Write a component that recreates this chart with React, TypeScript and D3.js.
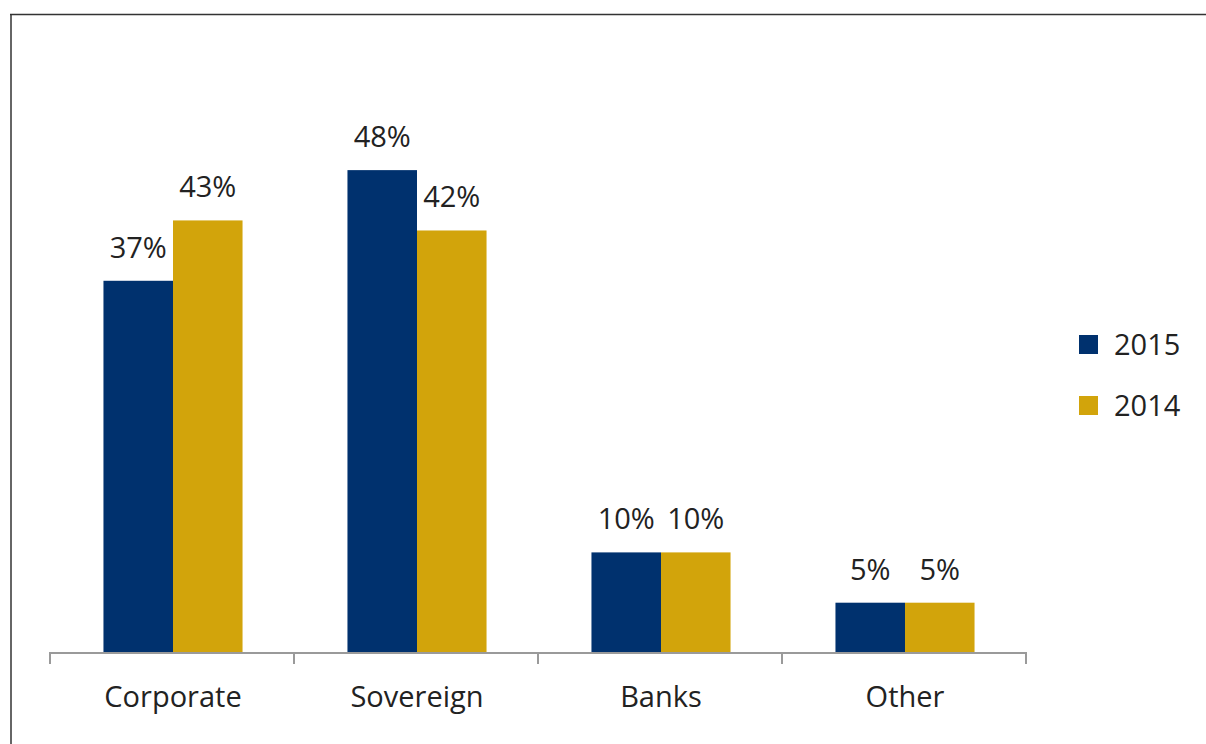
import React from "react";
import * as d3 from "d3";

const categories = ["Corporate", "Sovereign", "Banks", "Other"];
const seriesNames = ["2015", "2014"];
const values2015 = [37, 48, 10, 5];
const values2014 = [43, 42, 10, 5];
const colors = ["#00316E", "#D2A40B"];

const W = 1206;
const H = 744;
const FONT = "'Open Sans', 'Noto Sans', sans-serif";

export default function App() {
  const x = d3
    .scaleBand<string>()
    .domain(categories)
    .range([51, 1027])
    .paddingInner(0.43)
    .paddingOuter(0.215);
  const sub = d3.scaleBand<string>().domain(seriesNames).range([0, x.bandwidth()]);
  const y = d3.scaleLinear().domain([0, 50]).range([653, 150]);
  const series = [values2015, values2014];
  const step = x.step();
  const ticks = d3.range(categories.length + 1).map((i) => 50 + i * step);

  return (
    <svg
      width={W}
      height={H}
      style={{ position: "absolute", left: 0, top: 0, display: "block", background: "#fff" }}
    >
      <rect x={0} y={0} width={W} height={H} fill="#fff" />
      <line x1={10} x2={W} y1={14.5} y2={14.5} stroke="#333" strokeWidth={1.5} />
      <line x1={11} x2={11} y1={14} y2={H} stroke="#333" strokeWidth={1.5} />

      {categories.map((c, ci) =>
        series.map((vals, si) => {
          const bx = (x(c) ?? 0) + (sub(seriesNames[si]) ?? 0);
          const bw = sub.bandwidth();
          const v = vals[ci];
          return (
            <g key={c + si}>
              <rect x={bx} y={y(v)} width={bw} height={y(0) - y(v)} fill={colors[si]} />
              <text
                x={bx + bw / 2}
                y={y(v) - 23}
                textAnchor="middle"
                fontFamily={FONT}
                fontSize={29}
                fill="#222"
              >
                {v}%
              </text>
            </g>
          );
        })
      )}

      <line x1={50} x2={1027} y1={653} y2={653} stroke="#9a9a9a" strokeWidth={2} />
      {ticks.map((t, i) => (
        <line key={i} x1={t} x2={t} y1={652} y2={664} stroke="#9a9a9a" strokeWidth={2} />
      ))}
      {categories.map((c) => (
        <text
          key={c}
          x={(x(c) ?? 0) + x.bandwidth() / 2}
          y={707}
          textAnchor="middle"
          fontFamily={FONT}
          fontSize={29}
          fill="#222"
        >
          {c}
        </text>
      ))}

      {seriesNames.map((s, i) => (
        <g key={s}>
          <rect x={1079} y={335 + i * 61} width={19} height={19} fill={colors[i]} />
          <text x={1114} y={355 + i * 61} fontFamily={FONT} fontSize={29} fill="#222">
            {s}
          </text>
        </g>
      ))}
    </svg>
  );
}
